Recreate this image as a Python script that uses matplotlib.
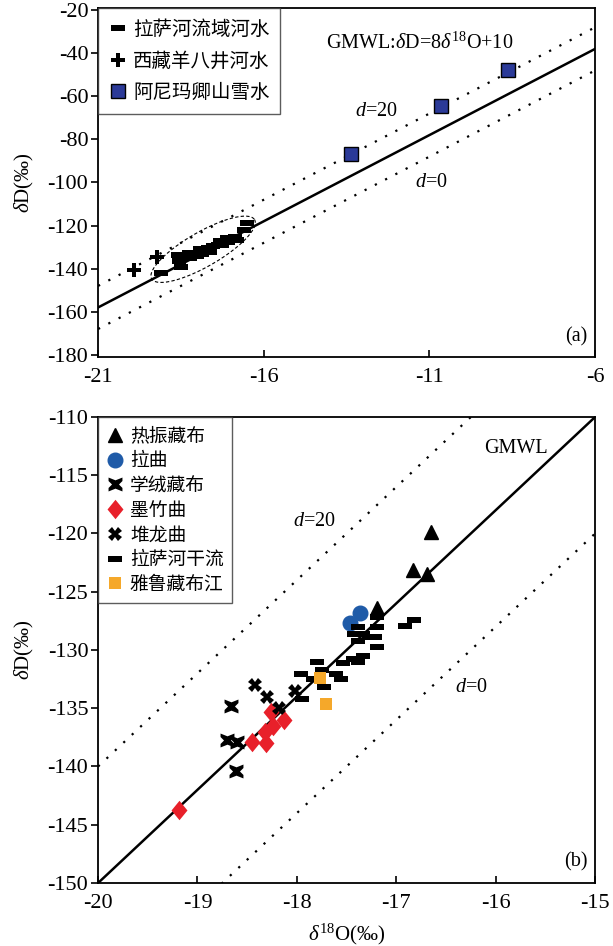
import matplotlib
matplotlib.use('Agg')
import matplotlib.pyplot as plt
import numpy as np

plt.rcParams['font.family'] = ['Liberation Serif', 'Noto Sans CJK SC']
plt.rcParams['axes.unicode_minus'] = False
plt.rcParams['mathtext.fontset'] = 'custom'
plt.rcParams['mathtext.rm'] = 'Liberation Serif'
plt.rcParams['mathtext.it'] = 'Liberation Serif:italic'

# ---- panel (a) data ----
lasa_basin_x = [-19.10, -18.58, -18.55, -18.50, -18.27, -18.24, -18.02, -17.92, -17.87, -17.67,
                -17.62, -17.52, -17.37, -17.32, -17.27, -17.12, -17.07, -16.87, -16.82, -16.61, -16.51]
lasa_basin_y = [-142.0, -133.8, -136.4, -139.0, -132.6, -134.9, -134.1, -131.0, -133.0, -130.3,
                -132.3, -129.5, -128.8, -127.3, -129.2, -125.8, -127.7, -125.3, -126.5, -122.0, -119.0]
yangbajing_x = [-19.92, -19.23]
yangbajing_y = [-140.5, -134.5]
anyemaqen_x = [-13.36, -10.65, -8.64]
anyemaqen_y = [-86.6, -64.3, -47.6]

# ---- panel (b) data ----
reting_x = [-16.65, -16.83, -16.69, -17.19]
reting_y = [-119.9, -123.1, -123.5, -126.4]
laqu_x = [-17.37, -17.47]
laqu_y = [-126.8, -127.7]
xuerong_x = [-18.66, -18.70, -18.60, -18.61]
xuerong_y = [-134.8, -137.7, -137.9, -140.4]
mozhu_x = [-18.26, -18.13, -18.24, -18.32, -18.45, -18.31, -19.19]
mozhu_y = [-135.3, -136.0, -136.5, -137.0, -137.9, -138.0, -143.7]
duilong_x = [-18.42, -18.30, -18.18, -18.02]
duilong_y = [-133.0, -134.0, -135.0, -133.5]
mainstream_x = [-17.39, -17.19, -17.19, -17.43, -17.33, -17.27, -17.21, -17.39, -17.19, -16.91,
                -16.82, -17.33, -17.44, -17.39, -17.54, -17.80, -17.75, -17.96, -17.84, -17.61,
                -17.56, -17.73, -17.95]
mainstream_y = [-128.0, -127.2, -128.0, -128.6, -128.6, -128.9, -128.9, -129.2, -129.7, -127.9,
                -127.4, -130.5, -130.8, -131.0, -131.1, -131.0, -131.7, -132.1, -132.5, -132.1,
                -132.5, -133.2, -134.2]
yarlung_x = [-17.77, -17.71]
yarlung_y = [-132.4, -134.6]

bar = [(-1, -0.42), (1, -0.42), (1, 0.42), (-1, 0.42), (-1, -0.42)]
diamond = [(0, 1), (0.82, 0), (0, -1), (-0.82, 0), (0, 1)]
hourglass = [(-1, 1), (0, 0.6), (1, 1), (1, 0.5), (0.5, 0), (1, -0.5), (1, -1),
             (0, -0.6), (-1, -1), (-1, -0.5), (-0.5, 0), (-1, 0.5), (-1, 1)]

dot = (0, (1, 4.2))
fig = plt.figure(figsize=(6.13, 9.46), dpi=100)

ax1 = fig.add_axes([0.160, 0.6226, 0.8108, 0.369])
xs = np.array([-21, -6])
ax1.plot(xs, 8 * xs + 10, color='black', lw=1.8, zorder=2)
ax1.plot(xs, 8 * xs + 20, color='black', lw=1.6, ls=dot, zorder=2)
ax1.plot(xs, 8 * xs, color='black', lw=1.6, ls=dot, zorder=2)

t = np.linspace(0, 2 * np.pi, 200)
cx, cy = -17.83, -131.0
ax1.plot(cx + 1.55 * np.cos(t) + 0.28 * np.sin(t), cy + 13.8 * np.cos(t) - 6.8 * np.sin(t),
         color='black', lw=0.8, ls=(0, (3, 2)), zorder=2)

ax1.plot(lasa_basin_x, lasa_basin_y, ls='none', marker=bar, ms=9.5, color='black', mew=0,
         label='拉萨河流域河水', zorder=3)
ax1.plot(yangbajing_x, yangbajing_y, ls='none', marker='P', ms=10, color='black', mew=0,
         label='西藏羊八井河水', zorder=3)
ax1.plot(anyemaqen_x, anyemaqen_y, ls='none', marker='s', ms=9.5, mfc='#2b3a98', mec='black', mew=1,
         label='阿尼玛卿山雪水', zorder=3)

ax1.set_xlim(-21, -6)
ax1.set_ylim(-181, -19)
ax1.set_xticks([-21, -16, -11, -6])
ax1.set_yticks(np.arange(-180, -19, 20))
ax1.set_ylabel(r'$\delta$D(‰)', fontsize=15, labelpad=8)
ax1.text(-11.3, -35.4, r'GMWL:$\delta$D=8$\delta^{18}$O+10', fontsize=14.5, ha='center', va='center')
ax1.text(-12.6, -67, r'$d$=20', fontsize=14.5, ha='center', va='center')
ax1.text(-10.95, -100, r'$d$=0', fontsize=14.5, ha='center', va='center')
ax1.text(0.985, 0.03, '(a)', transform=ax1.transAxes, fontsize=14.5, ha='right', va='bottom')
leg1 = ax1.legend(loc='upper left', bbox_to_anchor=(0, 1), borderaxespad=0, frameon=True,
                  fancybox=False, edgecolor='#333333', prop={'family': 'Noto Sans CJK SC', 'size': 14},
                  handlelength=0.9, handletextpad=0.35, labelspacing=0.55, borderpad=0.55)
leg1.get_frame().set_linewidth(1.0)

ax2 = fig.add_axes([0.160, 0.0666, 0.8108, 0.4926])
xs = np.array([-20, -15])
ax2.plot(xs, 8 * xs + 10, color='black', lw=1.8, zorder=2)
ax2.plot(xs, 8 * xs + 20, color='black', lw=1.6, ls=dot, zorder=2)
ax2.plot(xs, 8 * xs, color='black', lw=1.6, ls=dot, zorder=2)

ax2.plot(reting_x, reting_y, ls='none', marker='^', ms=9.5, color='black', label='热振藏布', zorder=3)
ax2.plot(laqu_x, laqu_y, ls='none', marker='o', ms=10.5, color='#1f5ba8', label='拉曲', zorder=3)
ax2.plot(xuerong_x, xuerong_y, ls='none', marker=hourglass, ms=10, color='black', mew=0,
         label='学绒藏布', zorder=3)
ax2.plot(mozhu_x, mozhu_y, ls='none', marker=diamond, ms=14, color='#e8202a', mew=0,
         label='墨竹曲', zorder=3)
ax2.plot(duilong_x, duilong_y, ls='none', marker='X', ms=10, color='black', mew=0,
         label='堆龙曲', zorder=3)
ax2.plot(mainstream_x, mainstream_y, ls='none', marker=bar, ms=9.5, color='black', mew=0,
         label='拉萨河干流', zorder=3)
ax2.plot(yarlung_x, yarlung_y, ls='none', marker='s', ms=9, color='#f5a82a', mew=0,
         label='雅鲁藏布江', zorder=3)

ax2.set_xlim(-20, -15)
ax2.set_ylim(-150, -110)
ax2.set_xticks(np.arange(-20, -14, 1))
ax2.set_yticks(np.arange(-150, -109, 5))
ax2.set_xlabel(r'$\delta^{18}$O(‰)', fontsize=15, labelpad=6)
ax2.set_ylabel(r'$\delta$D(‰)', fontsize=15, labelpad=8)
ax2.text(-15.8, -112.7, 'GMWL', fontsize=14.5, ha='center', va='center')
ax2.text(-17.82, -119.0, r'$d$=20', fontsize=14.5, ha='center', va='center')
ax2.text(-16.25, -133.25, r'$d$=0', fontsize=14.5, ha='center', va='center')
ax2.text(0.985, 0.025, '(b)', transform=ax2.transAxes, fontsize=14.5, ha='right', va='bottom')
leg2 = ax2.legend(loc='upper left', bbox_to_anchor=(0, 1), borderaxespad=0, frameon=True,
                  fancybox=False, edgecolor='#333333', prop={'family': 'Noto Sans CJK SC', 'size': 13.5},
                  handlelength=0.9, handletextpad=0.35, labelspacing=0.2, borderpad=0.45)
leg2.get_frame().set_linewidth(1.0)

for ax in (ax1, ax2):
    for sp in ax.spines.values():
        sp.set_linewidth(1.3)
    ax.tick_params(axis='x', direction='in', length=5, width=1.2, labelsize=16, pad=8)
    ax.tick_params(axis='y', direction='out', length=5, width=1.2, labelsize=16, pad=2)

fig.savefig('out.png', dpi=100)
